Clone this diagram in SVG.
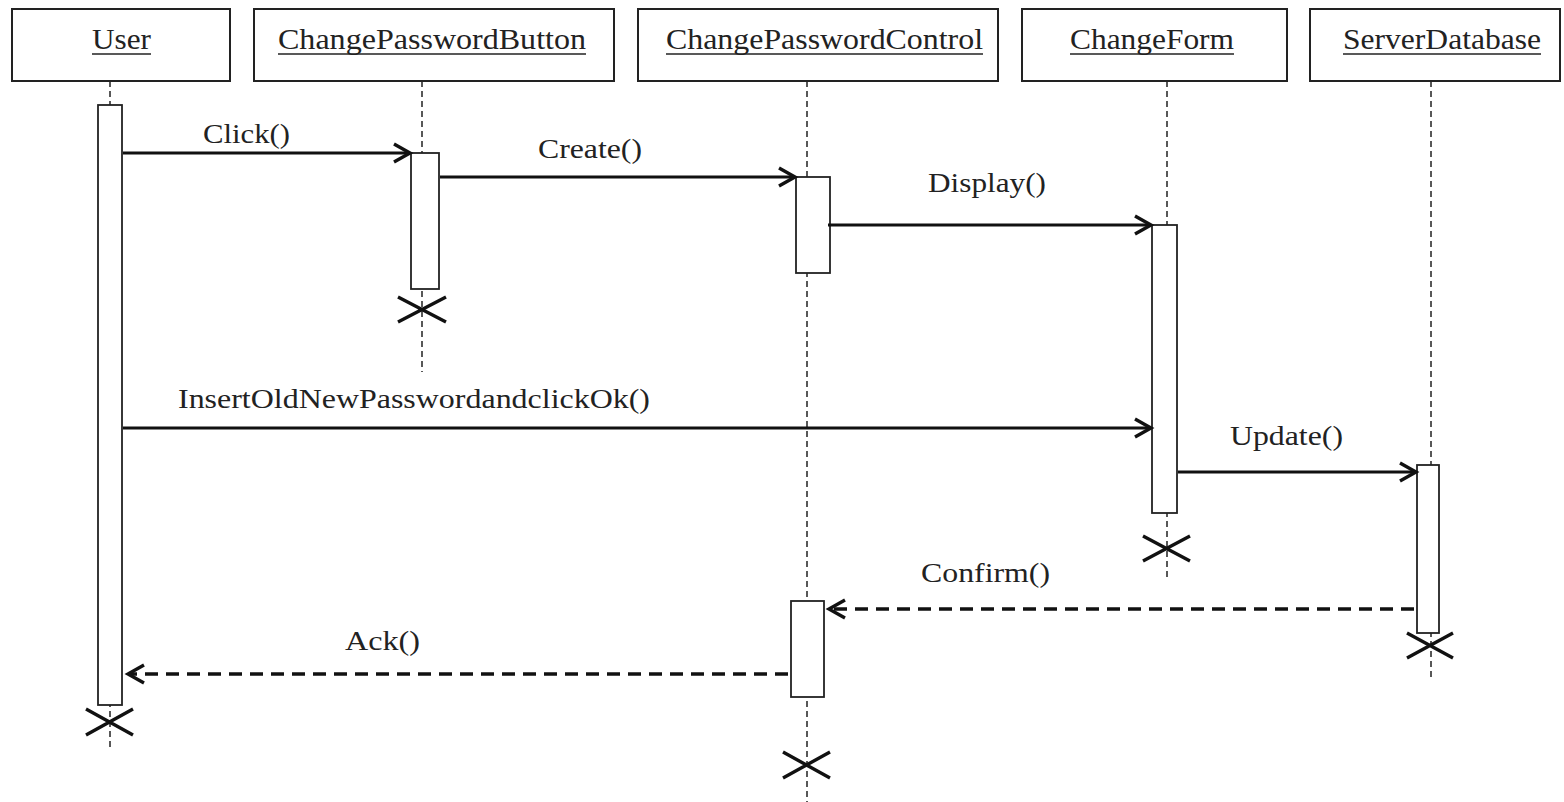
<svg xmlns="http://www.w3.org/2000/svg" width="1564" height="802" viewBox="0 0 1564 802">
<style>
.box{fill:#fff;stroke:#222;stroke-width:2}
.act{fill:#fff;stroke:#222;stroke-width:1.8}
.life{stroke:#222;stroke-width:1.5;stroke-dasharray:6 4;fill:none}
.hdr{font-family:"Liberation Serif","Times New Roman",serif;font-size:29px;fill:#222}
.lbl{font-family:"Liberation Serif","Times New Roman",serif;font-size:28px;fill:#222}
.ul{stroke:#222;stroke-width:1.6}
.msg{stroke:#111;stroke-width:3.2;fill:none;marker-end:url(#arr)}
.ret{stroke:#111;stroke-width:3.4;fill:none;stroke-dasharray:13 8;marker-end:url(#arr)}
.x{stroke:#111;stroke-width:3.4;fill:none}
</style>
<defs>
<marker id="arr" markerUnits="userSpaceOnUse" viewBox="-20 -12 24 24" markerWidth="24" markerHeight="24" refX="0" refY="0" orient="auto" overflow="visible">
<path d="M -16 -9 L 0 0 L -16 9" fill="none" stroke="#111" stroke-width="3.4" stroke-linejoin="miter"/>
</marker>
</defs>
<rect width="1564" height="802" fill="#fff"/>
<g id="lifelines">
<line class="life" x1="110" y1="81" x2="110" y2="748"/>
<line class="life" x1="422" y1="81" x2="422" y2="372"/>
<line class="life" x1="807" y1="81" x2="807" y2="802"/>
<line class="life" x1="1167" y1="81" x2="1167" y2="580"/>
<line class="life" x1="1431" y1="81" x2="1431" y2="680"/>
</g>
<g id="User">
<rect class="box" x="12" y="9" width="218" height="72"/>
<text class="hdr" x="92" y="49" textLength="59" lengthAdjust="spacingAndGlyphs">User</text>
<line class="ul" x1="92" y1="54" x2="151" y2="54"/>
<rect class="act" x="98" y="105" width="24" height="600"/>
<path class="x" d="M86 709 L133 735 M86 735 L133 709"/>
</g>
<g id="ChangePasswordButton">
<rect class="box" x="254" y="9" width="360" height="72"/>
<text class="hdr" x="278" y="49" textLength="308" lengthAdjust="spacingAndGlyphs">ChangePasswordButton</text>
<line class="ul" x1="278" y1="54" x2="586" y2="54"/>
<rect class="act" x="411" y="153" width="28" height="136"/>
<path class="x" d="M398 297 L446 322 M398 322 L446 297"/>
</g>
<g id="ChangePasswordControl">
<rect class="box" x="638" y="9" width="360" height="72"/>
<text class="hdr" x="666" y="49" textLength="317" lengthAdjust="spacingAndGlyphs">ChangePasswordControl</text>
<line class="ul" x1="666" y1="54" x2="983" y2="54"/>
<rect class="act" x="796" y="177" width="34" height="96"/>
<rect class="act" x="791" y="601" width="33" height="96"/>
<path class="x" d="M783 752 L830 778 M783 778 L830 752"/>
</g>
<g id="ChangeForm">
<rect class="box" x="1022" y="9" width="265" height="72"/>
<text class="hdr" x="1070" y="49" textLength="164" lengthAdjust="spacingAndGlyphs">ChangeForm</text>
<line class="ul" x1="1070" y1="54" x2="1234" y2="54"/>
<rect class="act" x="1152" y="225" width="25" height="288"/>
<path class="x" d="M1143 536 L1190 561 M1143 561 L1190 536"/>
</g>
<g id="ServerDatabase">
<rect class="box" x="1310" y="9" width="250" height="72"/>
<text class="hdr" x="1343" y="49" textLength="198" lengthAdjust="spacingAndGlyphs">ServerDatabase</text>
<line class="ul" x1="1343" y1="54" x2="1541" y2="54"/>
<rect class="act" x="1417" y="465" width="22" height="168"/>
<path class="x" d="M1407 633 L1453 658 M1407 658 L1453 633"/>
</g>
<g id="connectors">
<line class="msg" x1="123" y1="153" x2="410" y2="153"/>
<text class="lbl" x="203" y="143" textLength="87" lengthAdjust="spacingAndGlyphs">Click()</text>
<line class="msg" x1="440" y1="177" x2="795" y2="177"/>
<text class="lbl" x="538" y="158" textLength="104" lengthAdjust="spacingAndGlyphs">Create()</text>
<line class="msg" x1="828" y1="225" x2="1151" y2="225"/>
<text class="lbl" x="928" y="192" textLength="118" lengthAdjust="spacingAndGlyphs">Display()</text>
<line class="msg" x1="123" y1="428" x2="1151" y2="428"/>
<text class="lbl" x="178" y="408" textLength="472" lengthAdjust="spacingAndGlyphs">InsertOldNewPasswordandclickOk()</text>
<line class="msg" x1="1178" y1="472" x2="1416" y2="472"/>
<text class="lbl" x="1230" y="445" textLength="113" lengthAdjust="spacingAndGlyphs">Update()</text>
<line class="ret" x1="1414" y1="609" x2="829" y2="609"/>
<text class="lbl" x="921" y="582" textLength="129" lengthAdjust="spacingAndGlyphs">Confirm()</text>
<line class="ret" x1="788" y1="674" x2="128" y2="674"/>
<text class="lbl" x="345" y="650" textLength="75" lengthAdjust="spacingAndGlyphs">Ack()</text>
</g>
</svg>
